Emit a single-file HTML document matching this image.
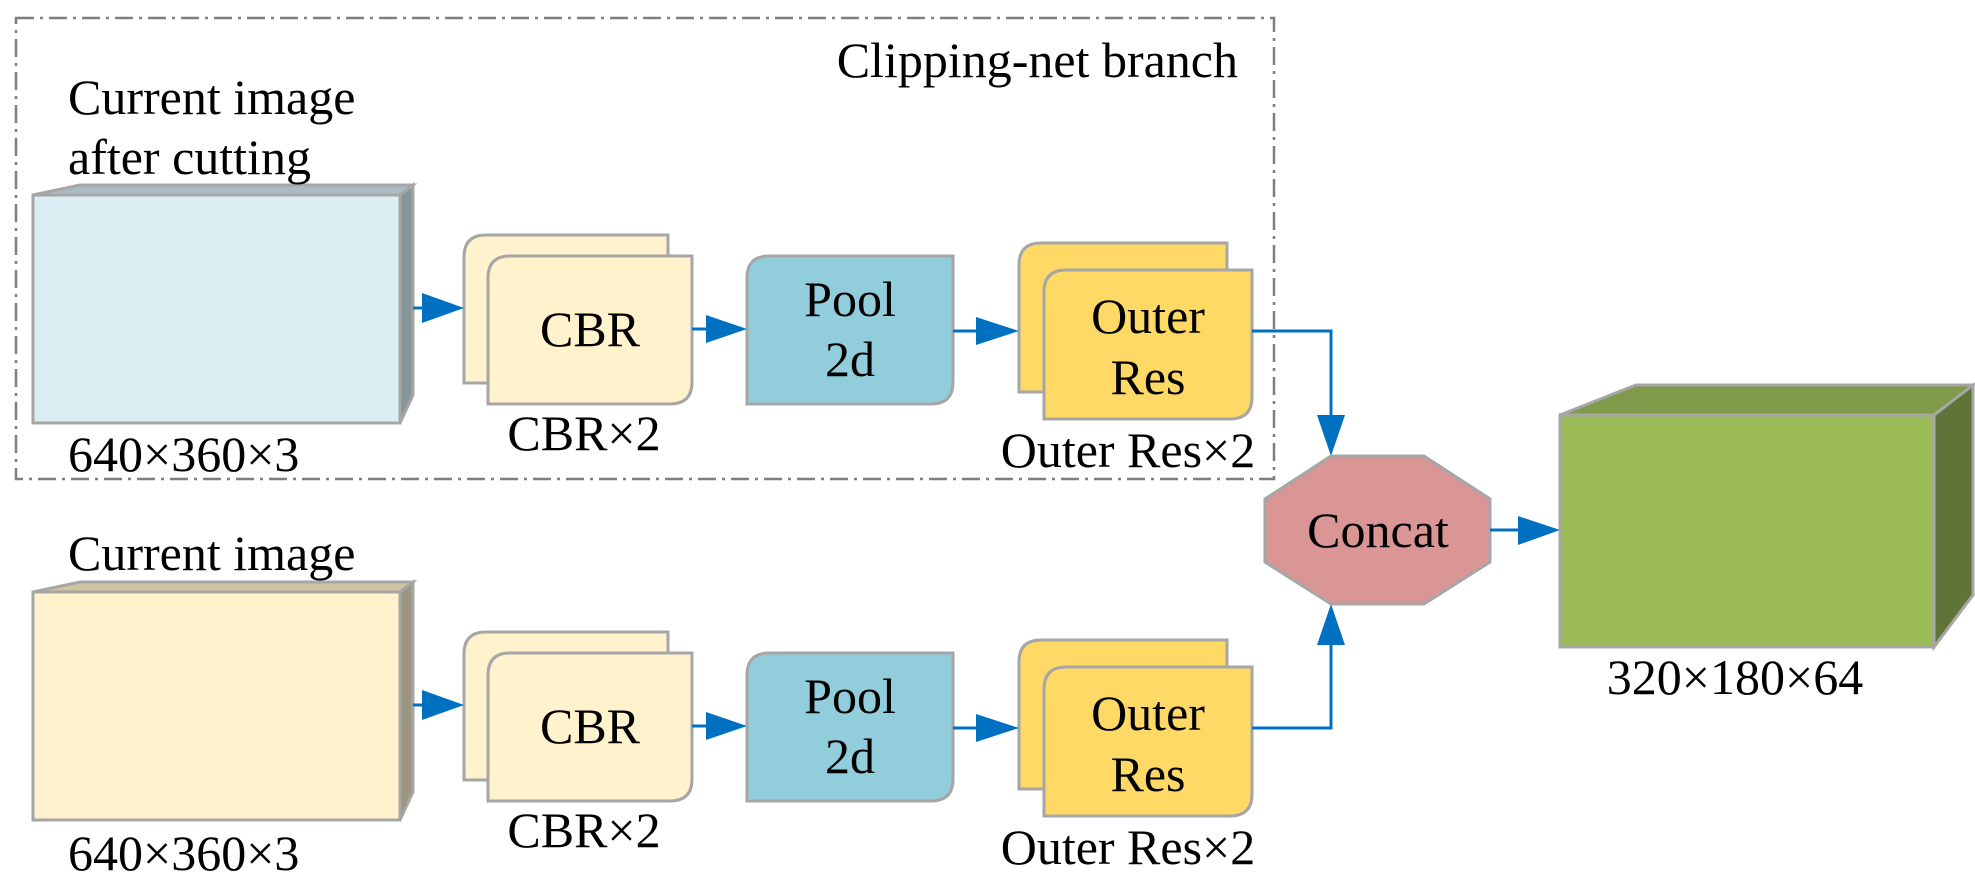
<!DOCTYPE html>
<html><head><meta charset="utf-8"><style>
html,body{margin:0;padding:0;background:#fff;}
svg{display:block;}
text{font-family:"Liberation Serif",serif;font-size:50px;fill:#000;}
</style></head><body>
<svg width="1975" height="884" viewBox="0 0 1975 884" xmlns="http://www.w3.org/2000/svg">
<defs>
<g id="branch">
  <path d="M486,235 H668 V383 H464 V257 Q464,235 486,235 Z" fill="#FFF2CC" stroke="#A6A6A6" stroke-width="3"/>
  <path d="M510,256 H692 V382 Q692,404 670,404 H488 V278 Q488,256 510,256 Z" fill="#FFF2CC" stroke="#A6A6A6" stroke-width="3"/>
  <text x="590" y="346" text-anchor="middle">CBR</text>
  <text x="584" y="450" text-anchor="middle">CBR×2</text>
  <path d="M769,256 H953 V382 Q953,404 931,404 H747 V278 Q747,256 769,256 Z" fill="#92CDDC" stroke="#A6A6A6" stroke-width="3"/>
  <text x="850" y="316" text-anchor="middle">Pool</text>
  <text x="850" y="376" text-anchor="middle">2d</text>
  <path d="M1041,243 H1227 V392 H1019 V265 Q1019,243 1041,243 Z" fill="#FFD966" stroke="#A6A6A6" stroke-width="3"/>
  <path d="M1066,270 H1252 V397 Q1252,419 1230,419 H1044 V292 Q1044,270 1066,270 Z" fill="#FFD966" stroke="#A6A6A6" stroke-width="3"/>
  <text x="1148" y="333" text-anchor="middle">Outer</text>
  <text x="1148" y="394" text-anchor="middle">Res</text>
  <text x="1128" y="467" text-anchor="middle">Outer Res×2</text>
  <line x1="413" y1="308" x2="424" y2="308" stroke="#0070C0" stroke-width="3"/>
  <polygon points="422,293 464,308 422,323" fill="#0070C0"/>
  <line x1="692" y1="329" x2="708" y2="329" stroke="#0070C0" stroke-width="3"/>
  <polygon points="706,315 747,329 706,343" fill="#0070C0"/>
  <line x1="953" y1="331" x2="978" y2="331" stroke="#0070C0" stroke-width="3"/>
  <polygon points="976,317 1019,331 976,345" fill="#0070C0"/>
</g>
</defs>

<rect x="16" y="18" width="1258" height="461" fill="none" stroke="#7F7F7F" stroke-width="2.5" stroke-dasharray="18,6,3,6"/>
<text x="1238" y="77" text-anchor="end">Clipping-net branch</text>

<polygon points="33,195 80,185 413,185 400,195" fill="#A9BCC3" stroke="#A6A6A6" stroke-width="3"/>
<polygon points="400,195 413,185 413,395 400,423" fill="#87969B" stroke="#A6A6A6" stroke-width="3"/>
<rect x="33" y="195" width="367" height="228" fill="#DAEEF3" stroke="#A6A6A6" stroke-width="3"/>
<text x="68" y="114">Current image</text>
<text x="68" y="174">after cutting</text>
<text x="68" y="471">640×360×3</text>

<use href="#branch"/>

<polygon points="33,592 80,582 413,582 400,592" fill="#CFC3A3" stroke="#A6A6A6" stroke-width="3"/>
<polygon points="400,592 413,582 413,792 400,820" fill="#9C9580" stroke="#A6A6A6" stroke-width="3"/>
<rect x="33" y="592" width="367" height="228" fill="#FFF2CC" stroke="#A6A6A6" stroke-width="3"/>
<text x="68" y="570">Current image</text>
<text x="68" y="870">640×360×3</text>

<g transform="translate(0,397)"><use href="#branch"/></g>

<polyline points="1252,331 1331,331 1331,418" fill="none" stroke="#0070C0" stroke-width="3"/>
<polygon points="1317,415 1345,415 1331,456" fill="#0070C0"/>
<polyline points="1252,728 1331,728 1331,642" fill="none" stroke="#0070C0" stroke-width="3"/>
<polygon points="1317,645 1345,645 1331,604" fill="#0070C0"/>

<polygon points="1331,456 1424,456 1490,499 1490,562 1424,604 1331,604 1265,562 1265,499" fill="#D99694" stroke="#A6A6A6" stroke-width="3"/>
<text x="1378" y="547" text-anchor="middle">Concat</text>

<line x1="1490" y1="530" x2="1520" y2="530" stroke="#0070C0" stroke-width="3"/>
<polygon points="1518,516 1560,530 1518,545" fill="#0070C0"/>

<polygon points="1560,415 1636,385 1973,385 1934,415" fill="#7F9A48" stroke="#A6A6A6" stroke-width="3"/>
<polygon points="1934,415 1973,385 1973,595 1934,647" fill="#5F7537" stroke="#A6A6A6" stroke-width="3"/>
<rect x="1560" y="415" width="374" height="232" fill="#9BBB59" stroke="#A6A6A6" stroke-width="3"/>
<text x="1735" y="694" text-anchor="middle">320×180×64</text>
</svg>
</body></html>
